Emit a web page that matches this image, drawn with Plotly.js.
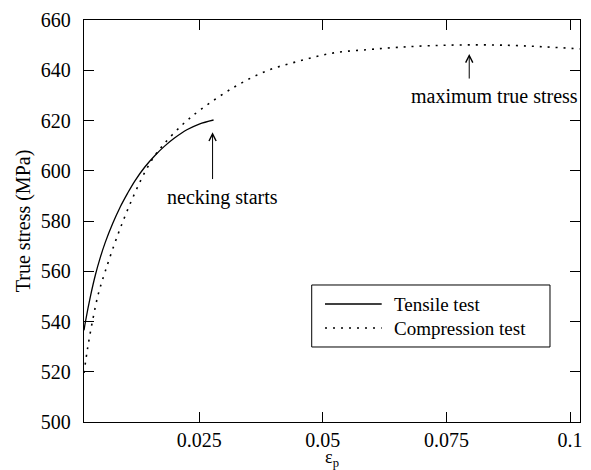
<!DOCTYPE html>
<html>
<head>
<meta charset="utf-8">
<script src="https://cdn.plot.ly/plotly-3.0.1.min.js"></script>
<style>html,body{margin:0;padding:0;background:#fff;}#chart{width:591px;height:470px;}</style>
</head>
<body>
<div id="chart"></div>
<script>
// Tensile test (solid)
var tensileStrain = [0.0017, 0.0020, 0.0030, 0.0040, 0.0050, 0.0060, 0.0075, 0.0090, 0.0105, 0.0120, 0.0140, 0.0160, 0.0180, 0.0200, 0.0225, 0.0250, 0.0279];
var tensileStress = [536.5, 540, 550, 558.5, 565.5, 571.5, 579, 585.5, 591, 596, 601.5, 606, 609.8, 613, 616.3, 618.6, 620.2];
// Compression test (dotted)
var compStrain = [0.0017, 0.0024, 0.0034, 0.0046, 0.0060, 0.0078, 0.0096, 0.0115, 0.0135, 0.0155, 0.0178, 0.0218, 0.0254, 0.0320, 0.0387, 0.0455, 0.0522, 0.0590, 0.0650, 0.0720, 0.0800, 0.0880, 0.0950, 0.1020];
var compStress = [519.5, 529, 540, 551, 560, 570.5, 580, 589, 597.5, 604.5, 610.5, 618.7, 624.5, 633.2, 639.8, 643.8, 646.9, 648.2, 649.1, 649.8, 650.1, 649.9, 649.3, 648.5];
var seriesNames = ["Tensile test", "Compression test"];
var xTickVals = [0.025, 0.05, 0.075, 0.1];
var xTickText = ["0.025", "0.05", "0.075", "0.1"];
var yTickVals = [500, 520, 540, 560, 580, 600, 620, 640, 660];

var serif = "Liberation Serif";
var dotDash = "2px,6px";

var traces = [
  {x: tensileStrain, y: tensileStress, mode: "lines", name: seriesNames[0], showlegend: false, line: {color: "#000", width: 1.3, shape: "spline", smoothing: 1}},
  {x: compStrain, y: compStress, mode: "lines", name: seriesNames[1], showlegend: false, line: {color: "#000", width: 1.6, dash: dotDash, shape: "spline", smoothing: 1}}
];

var layout = {
  width: 591, height: 470,
  margin: {l: 84, r: 11, t: 20, b: 48},
  paper_bgcolor: "#fff", plot_bgcolor: "#fff",
  font: {family: serif, size: 20, color: "#000"},
  showlegend: false,
  xaxis: {
    range: [0.0017, 0.102], tickvals: xTickVals, ticktext: xTickText,
    ticks: "inside", ticklen: 10, tickwidth: 1, tickcolor: "#000",
    showline: true, linecolor: "#000", linewidth: 1.2, mirror: "ticks",
    showgrid: false, zeroline: false, automargin: false,
    tickfont: {family: serif, size: 20, color: "#000"},
    ticklabelstandoff: 0,
    title: {text: "ε<sub>p</sub>", font: {family: serif, size: 18, color: "#000"}, standoff: 11}
  },
  yaxis: {
    range: [500, 660], tickvals: yTickVals,
    ticks: "inside", ticklen: 10, tickwidth: 1, tickcolor: "#000",
    showline: true, linecolor: "#000", linewidth: 1.2, mirror: "ticks",
    showgrid: false, zeroline: false,
    tickfont: {family: serif, size: 20, color: "#000"},
    ticklabelstandoff: 8,
    title: {text: "True stress (MPa)", font: {family: serif, size: 20, color: "#000"}, standoff: 4}
  },
  shapes: [
    {type: "rect", xref: "paper", yref: "paper", x0: 0.4591, x1: 0.9395, y0: 0.1866, y1: 0.3408, line: {color: "#000", width: 1}, fillcolor: "#fff", layer: "above"},
    {type: "line", xref: "paper", yref: "paper", x0: 0.4859, x1: 0.6002, y0: 0.2935, y1: 0.2935, line: {color: "#000", width: 1.3}, layer: "above"},
    {type: "line", xref: "paper", yref: "paper", x0: 0.4859, x1: 0.6002, y0: 0.2338, y1: 0.2338, line: {color: "#000", width: 1.6, dash: dotDash}, layer: "above"}
  ],
  annotations: [
    {x: 0.6204, y: 0.2935, xref: "paper", yref: "paper", text: seriesNames[0], showarrow: false, xanchor: "left", yanchor: "middle", font: {family: serif, size: 19, color: "#000"}},
    {x: 0.6204, y: 0.2338, xref: "paper", yref: "paper", text: seriesNames[1], showarrow: false, xanchor: "left", yanchor: "middle", font: {family: serif, size: 19, color: "#000"}},
    {x: 0.0277, y: 615.3, xref: "x", yref: "y", ax: 0.0277, ay: 596.1, axref: "x", ayref: "y", text: "", showarrow: true, arrowhead: 5, arrowsize: 1.4, arrowwidth: 1, arrowcolor: "#000"},
    {x: 0.02977, y: 589.3, xref: "x", yref: "y", text: "necking starts", showarrow: false, xanchor: "center", yanchor: "middle", font: {family: serif, size: 20, color: "#000"}},
    {x: 0.0796, y: 646.5, xref: "x", yref: "y", ax: 0.0796, ay: 636.1, axref: "x", ayref: "y", text: "", showarrow: true, arrowhead: 5, arrowsize: 1.4, arrowwidth: 1, arrowcolor: "#000"},
    {x: 0.08481, y: 629.9, xref: "x", yref: "y", text: "maximum true stress", showarrow: false, xanchor: "center", yanchor: "middle", font: {family: serif, size: 20, color: "#000"}}
  ]
};

Plotly.newPlot("chart", traces, layout, {displayModeBar: false, staticPlot: true});
</script>
</body>
</html>
